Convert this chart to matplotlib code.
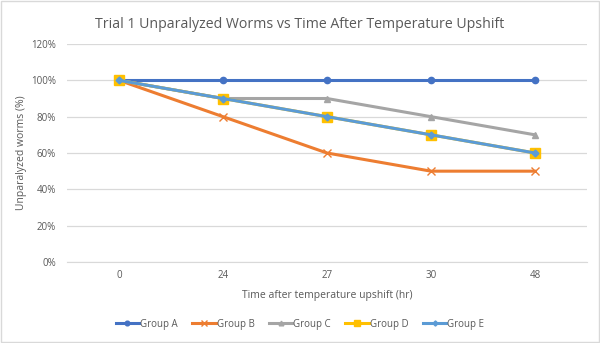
import matplotlib
matplotlib.use("Agg")
import matplotlib.pyplot as plt
from matplotlib.ticker import FuncFormatter

hours = ["0", "24", "27", "30", "48"]
group_a = [100, 100, 100, 100, 100]
group_b = [100, 80, 60, 50, 50]
group_c = [100, 90, 90, 80, 70]
group_d = [100, 90, 80, 70, 60]
group_e = [100, 90, 80, 70, 60]

series = [
    ("Group A", group_a, "#4472C4", "o", 4.5),
    ("Group B", group_b, "#ED7D31", "x", 6),
    ("Group C", group_c, "#A5A5A5", "^", 4.5),
    ("Group D", group_d, "#FFC000", "s", 6.5),
    ("Group E", group_e, "#5B9BD5", "D", 3.5),
]

plt.rcParams["font.family"] = ["Open Sans", "DejaVu Sans"]

fig = plt.figure(figsize=(6.0, 3.43), dpi=100)
ax = fig.add_axes([67 / 600, 1 - 262 / 343, 520 / 600, 218 / 343])

x = list(range(len(hours)))
for name, vals, color, marker, ms in series:
    ax.plot(x, vals, color=color, lw=2.2, marker=marker, ms=ms,
            mec=color, mfc=color, mew=1.0, label=name, zorder=3)

ax.set_xlim(-0.5, len(hours) - 0.5)
ax.set_ylim(0, 120)
ax.set_yticks(range(0, 121, 20))
ax.yaxis.set_major_formatter(FuncFormatter(lambda v, p: f"{int(v)}%"))
ax.set_xticks(x)
ax.set_xticklabels(hours)
ax.grid(axis="y", color="#D9D9D9", lw=0.9, zorder=0)
for s in ["top", "right", "left"]:
    ax.spines[s].set_visible(False)
ax.spines["bottom"].set_color("#D9D9D9")
ax.tick_params(length=0, colors="#595959", labelsize=7)
ax.tick_params(axis="x", pad=6)
ax.tick_params(axis="y", pad=8)

ax.set_xlabel("Time after temperature upshift (hr)", fontsize=7.5, color="#595959", labelpad=6)
ax.set_ylabel("Unparalyzed worms (%)", fontsize=7.5, color="#595959", labelpad=3)
fig.text(0.5, 1 - 25 / 343, "Trial 1 Unparalyzed Worms vs Time After Temperature Upshift",
         ha="center", va="center", fontsize=10.2, color="#595959")

leg = fig.legend(loc="center", bbox_to_anchor=(0.5, 1 - 324 / 343), ncol=5,
                 frameon=False, fontsize=7, handlelength=2.4, handletextpad=0.1,
                 columnspacing=1.5, labelcolor="#595959", markerscale=0.75)

fig.patches.append(plt.Rectangle((0.001, 0.002), 0.997, 0.995, transform=fig.transFigure,
                                 fill=False, ec="#D9D9D9", lw=1.0))

fig.savefig("out.png", dpi=100)
